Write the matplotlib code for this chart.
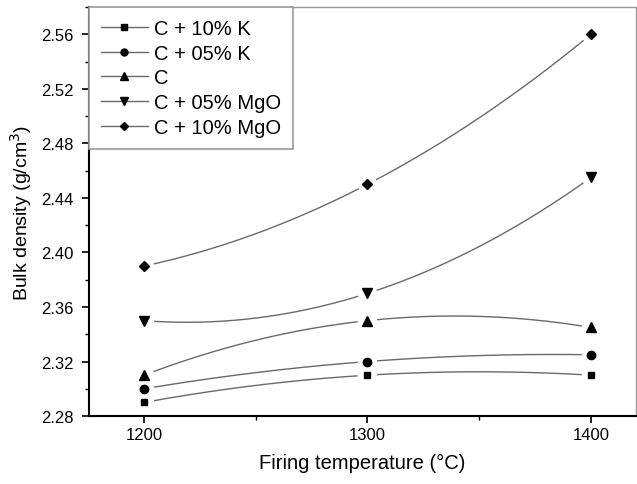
import numpy as np
import matplotlib
matplotlib.use("Agg")
import matplotlib.pyplot as plt
from matplotlib.ticker import MultipleLocator

plt.rcParams['font.family'] = ['Liberation Sans', 'DejaVu Sans']

# data
temps = [1200, 1300, 1400]
labels = ['C + 10% K', 'C + 05% K', 'C', 'C + 05% MgO', 'C + 10% MgO']
markers = ['s', 'o', '^', 'v', 'D']
c_10k = [2.29, 2.31, 2.31]
c_05k = [2.30, 2.32, 2.325]
c_plain = [2.31, 2.35, 2.345]
c_05mgo = [2.35, 2.37, 2.455]
c_10mgo = [2.39, 2.45, 2.56]
series = [c_10k, c_05k, c_plain, c_05mgo, c_10mgo]
msizes = [5, 6, 6.5, 6.5, 5.5]

fig = plt.figure(figsize=(6.37, 4.85), dpi=100)
ax = fig.add_axes([0.14, 0.14, 0.858, 0.8435])

xs = np.linspace(1200, 1400, 200)
handles = []
for ys, m, lab, ms in zip(series, markers, labels, msizes):
    # smooth curve through the three points (like Origin's spline)
    coef = np.polyfit(temps, ys, 2)
    ax.plot(xs, np.polyval(coef, xs), color='#6a6a6a', lw=1.0, zorder=1)
    # white halo gives the gap between line and marker
    ax.plot(temps, ys, ls='none', marker='o', ms=13, mfc='white', mec='white', zorder=2)
    ax.plot(temps, ys, ls='none', marker=m, ms=ms, color='black', zorder=3)
    h, = ax.plot([], [], color='#6a6a6a', lw=1.0, marker=m, ms=ms - 1, mfc='black', mec='black', label=lab)
    handles.append(h)

ax.set_xlim(1175.5, 1420)
ax.set_xticks(temps)
ax.xaxis.set_minor_locator(MultipleLocator(50))
ax.yaxis.set_major_locator(MultipleLocator(0.04))
ax.yaxis.set_minor_locator(MultipleLocator(0.02))
ax.set_ylim(2.28, 2.58)
ax.yaxis.set_major_formatter(matplotlib.ticker.FormatStrFormatter('%.2f'))
ax.tick_params(which='major', direction='out', length=5, width=1.2, labelsize=12, color='black', pad=3)
ax.tick_params(axis='y', which='major', pad=6)
ax.tick_params(which='minor', direction='out', length=3, width=1.0)

for s in ['left', 'bottom']:
    ax.spines[s].set_linewidth(1.5)
for s in ['top', 'right']:
    ax.spines[s].set_color('#999999')
    ax.spines[s].set_linewidth(1.0)

ax.set_xlabel('Firing temperature (\u00b0C)', fontsize=14.5, labelpad=8)
ax.set_ylabel('Bulk density (g/cm$^3$)', fontsize=14, labelpad=5)

leg = ax.legend(handles=handles, loc='upper left', borderaxespad=0, fontsize=14.5,
                fancybox=False, edgecolor='#999999', framealpha=1,
                handlelength=2.3, handletextpad=0.3, labelspacing=0.28,
                borderpad=0.6)
leg.get_frame().set_linewidth(1.2)

fig.savefig('out.png', dpi=100)
